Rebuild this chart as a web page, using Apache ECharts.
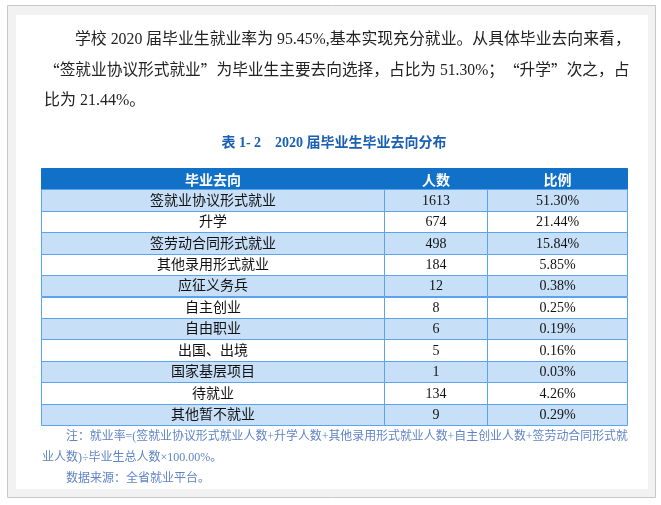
<!DOCTYPE html>
<html><head><meta charset="utf-8">
<script src="https://cdn.jsdelivr.net/npm/echarts@6/dist/echarts.min.js"></script>
<style>html,body{margin:0;padding:0;background:#fff}#c{width:661px;height:505px}</style>
</head><body><div id="c"></div>
<script>
// ---- data ----
const paragraphLines = [
  '学校 2020 届毕业生就业率为 95.45%,基本实现充分就业。从具体毕业去向来看，',
  '“签就业协议形式就业”为毕业生主要去向选择，占比为 51.30%；“升学”次之，占',
  '比为 21.44%。'
];
const tableTitle = '表 1- 2    2020 届毕业生毕业去向分布';
const headers = ['毕业去向', '人数', '比例'];
const destinations = ['签就业协议形式就业', '升学', '签劳动合同形式就业', '其他录用形式就业', '应征义务兵',
  '自主创业', '自由职业', '出国、出境', '国家基层项目', '待就业', '其他暂不就业'];
const counts = [1613, 674, 498, 184, 12, 8, 6, 5, 1, 134, 9];
const ratios = [51.30, 21.44, 15.84, 5.85, 0.38, 0.25, 0.19, 0.16, 0.03, 4.26, 0.29];
const noteLines = [
  '注：就业率=(签就业协议形式就业人数+升学人数+其他录用形式就业人数+自主创业人数+签劳动合同形式就',
  '业人数)÷毕业生总人数×100.00%。',
  '数据来源：全省就业平台。'
];

// ---- build ----
const columns = [
  destinations,
  counts.map(v => String(v)),
  ratios.map(v => v.toFixed(2) + '%')
];
const rowIds = ['h'].concat(destinations.map((d, i) => 'r' + i));
const colLayout = [{left: 41, width: 343}, {left: 384, width: 103}, {left: 487, width: 140}];
const HEAD = '#1170c8', LIGHT = '#c7e0f8', LINE = '#5ba3ee';
const SERIF = '"Liberation Serif","Noto Sans CJK SC"';

function makeRender(col) {
  return function (params, api) {
    const row = params.dataIndex;
    const c = api.coord([api.value(0), api.value(1)]);
    const s = api.size([1, 1]);
    const x0 = Math.round(c[0] - s[0] / 2) + 0.5, x1 = Math.round(c[0] + s[0] / 2) + 0.5;
    const y0 = Math.round(c[1] - s[1] / 2) + 0.5, y1 = Math.round(c[1] + s[1] / 2) + 0.5;
    const isHead = row === 0;
    const fill = isHead ? HEAD : (row % 2 === 1 ? LIGHT : '#ffffff');
    const text = isHead ? headers[col] : columns[col][row - 1];
    return {
      type: 'group',
      children: [
        {type: 'rect', shape: {x: x0, y: y0, width: x1 - x0, height: y1 - y0},
          style: {fill: fill, stroke: isHead ? HEAD : LINE, lineWidth: 1}, z2: isHead ? 0 : 1},
        {type: 'text', z2: 5, style: {
          text: text, x: (x0 + x1) / 2, y: (y0 + y1) / 2 + 0.5, align: 'center', verticalAlign: 'middle',
          fill: isHead ? '#ffffff' : '#111111',
          font: isHead ? 'bold 14px "Noto Sans CJK SC"' : '14px ' + SERIF
        }}
      ]
    };
  };
}

// wrap CJK quotation marks so they take a full-width CJK glyph
function richQuotes(t) {
  return t.replace(/([“”])/g, '{q|$1}');
}

const graphics = [
  {type: 'rect', z: -10, shape: {x: 7.5, y: 5.5, width: 648, height: 492}, style: {fill: '#f2f2f2', stroke: '#c8c8c8', lineWidth: 1}},
  {type: 'rect', z: -9, shape: {x: 16, y: 15, width: 632, height: 474}, style: {fill: '#ffffff'}}
];
const paraPos = [[75, 40, 0.99], [44, 71, 0.98], [44, 101, 1]];
paragraphLines.forEach((t, i) => graphics.push({type: 'text', z: 5, x: paraPos[i][0], y: paraPos[i][1], scaleX: paraPos[i][2],
  style: {text: richQuotes(t), font: '16px ' + SERIF, fill: '#222222', textVerticalAlign: 'middle',
    rich: {q: {font: '16px "Noto Sans CJK SC"', fill: '#222222'}}}}));
const notePos = [[66, 437, 0.993], [42, 458, 1], [66, 479, 1]];
noteLines.forEach((t, i) => graphics.push({type: 'text', z: 5, x: notePos[i][0], y: notePos[i][1], scaleX: notePos[i][2],
  style: {text: t, font: '12px ' + SERIF, fill: '#5f84c6', textVerticalAlign: 'middle'}}));
graphics.push({type: 'text', z: 5, x: 334, y: 143,
  style: {text: tableTitle, font: 'bold 14px ' + SERIF, fill: '#1a5fb4', textAlign: 'center', textVerticalAlign: 'middle'}});

const option = {
  animation: false,
  backgroundColor: '#ffffff',
  grid: colLayout.map(c => ({left: c.left, width: c.width, top: 168, height: 257})),
  xAxis: colLayout.map((c, i) => ({type: 'category', gridIndex: i, data: [headers[i]], show: false})),
  yAxis: colLayout.map((c, i) => ({type: 'category', gridIndex: i, data: rowIds, inverse: true, show: false})),
  graphic: graphics,
  series: colLayout.map((c, i) => ({
    type: 'custom', xAxisIndex: i, yAxisIndex: i,
    renderItem: makeRender(i),
    data: rowIds.map((r, k) => [0, k]),
    encode: {x: 0, y: 1}
  }))
};
echarts.init(document.getElementById('c'), null, {renderer: 'canvas'}).setOption(option);
</script></body></html>
